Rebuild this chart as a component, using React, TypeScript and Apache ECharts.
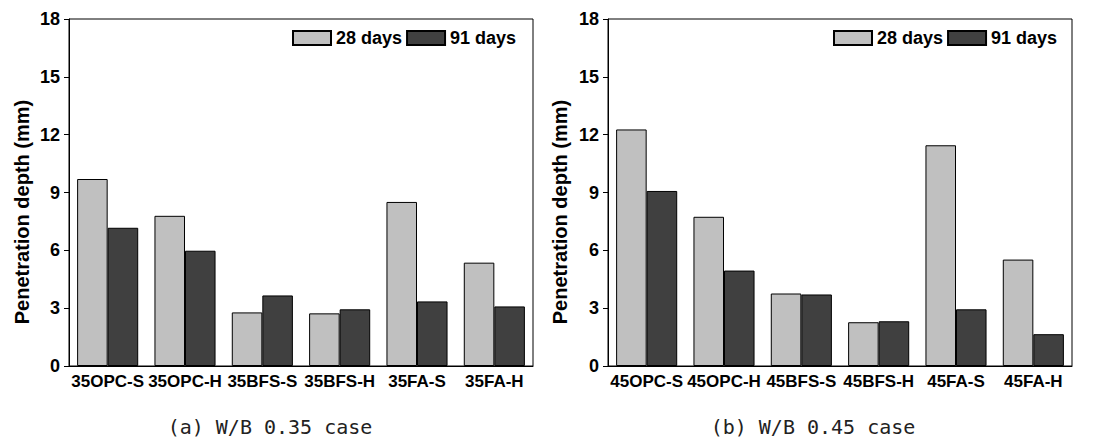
import React, { useEffect, useRef } from "react";
import * as echarts from "echarts";

const categoriesA = ["35OPC-S", "35OPC-H", "35BFS-S", "35BFS-H", "35FA-S", "35FA-H"];
const categoriesB = ["45OPC-S", "45OPC-H", "45BFS-S", "45BFS-H", "45FA-S", "45FA-H"];
const days28A = [9.7, 7.79, 2.78, 2.73, 8.51, 5.36];
const days91A = [7.17, 5.98, 3.66, 2.94, 3.35, 3.09];
const days28B = [12.27, 7.74, 3.76, 2.27, 11.45, 5.52];
const days91B = [9.08, 4.95, 3.71, 2.32, 2.94, 1.65];
const seriesNames = ["28 days", "91 days"];
const yTicks = { min: 0, max: 18, interval: 3 };
const yName = "Penetration depth (mm)";
const captions = ["(a) W/B 0.35 case", "(b) W/B 0.45 case"];

const FONT = "Liberation Sans, Arial, sans-serif";
const LIGHT = "#c0c0c0";
const DARK = "#404040";

export default function App() {
  const ref = useRef<HTMLDivElement>(null);
  useEffect(() => {
    if (!ref.current) return;
    const chart = echarts.init(ref.current, undefined, { renderer: "svg" });
    const grids = [
      { left: 69, top: 19, width: 464, height: 347 },
      { left: 608, top: 19, width: 464, height: 347 },
    ];
    const xAxes = [categoriesA, categoriesB].map((cats, i) => ({
      type: "category",
      gridIndex: i,
      data: cats,
      boundaryGap: true,
      axisLine: { lineStyle: { color: "#000", width: 1 } },
      axisTick: { inside: true, length: 3, lineStyle: { color: "#000" } },
      axisLabel: {
        color: "#000",
        fontFamily: FONT,
        fontWeight: "bold",
        fontSize: 17,
        margin: 7,
        interval: 0,
      },
      splitLine: { show: false },
    }));
    const yAxes = [0, 1].map((i) => ({
      type: "value",
      gridIndex: i,
      min: yTicks.min,
      max: yTicks.max,
      interval: yTicks.interval,
      axisLine: { show: true, lineStyle: { color: "#000", width: 1 } },
      axisTick: { show: true, inside: false, length: 5, lineStyle: { color: "#000" } },
      axisLabel: {
        color: "#000",
        fontFamily: FONT,
        fontWeight: "bold",
        fontSize: 18,
        margin: 9,
      },
      splitLine: { show: false },
    }));
    const mkSeries = (name: string, data: number[], idx: number, color: string) => ({
      type: "bar",
      name,
      data,
      xAxisIndex: idx,
      yAxisIndex: idx,
      barGap: "0%",
      barCategoryGap: "21%",
      itemStyle: { color, borderColor: "#000", borderWidth: 1 },
    });
    const legendBase = {
      data: seriesNames,
      top: 29,
      itemWidth: 38,
      itemHeight: 14,
      itemGap: 4,
      icon: "rect",
      textStyle: { color: "#000", fontFamily: FONT, fontWeight: "bold", fontSize: 18 },
      padding: 0,
    };
    chart.setOption({
      animation: false,
      backgroundColor: "#fff",
      grid: grids.map((g) => ({
        ...g,
        show: true,
        borderColor: "#000",
        borderWidth: 1,
        backgroundColor: "transparent",
      })),
      xAxis: xAxes,
      yAxis: yAxes,
      legend: [
        { ...legendBase, left: 292 },
        { ...legendBase, left: 833 },
      ],
      series: [
        mkSeries(seriesNames[0], days28A, 0, LIGHT),
        mkSeries(seriesNames[1], days91A, 0, DARK),
        mkSeries(seriesNames[0], days28B, 1, LIGHT),
        mkSeries(seriesNames[1], days91B, 1, DARK),
      ],
      graphic: [
        {
          type: "text",
          x: 22,
          y: 212,
          rotation: Math.PI / 2,
          style: {
            text: yName,
            fill: "#000",
            font: `bold 20px ${FONT}`,
            textAlign: "center",
            textVerticalAlign: "middle",
          },
        },
        {
          type: "text",
          x: 560,
          y: 212,
          rotation: Math.PI / 2,
          style: {
            text: yName,
            fill: "#000",
            font: `bold 20px ${FONT}`,
            textAlign: "center",
            textVerticalAlign: "middle",
          },
        },
        {
          type: "text",
          x: 270,
          y: 427,
          style: {
            text: captions[0],
            fill: "#222",
            font: `20px 'DejaVu Sans Mono', monospace`,
            textAlign: "center",
            textVerticalAlign: "middle",
          },
        },
        {
          type: "text",
          x: 813,
          y: 427,
          style: {
            text: captions[1],
            fill: "#222",
            font: `20px 'DejaVu Sans Mono', monospace`,
            textAlign: "center",
            textVerticalAlign: "middle",
          },
        },
      ],
    });
    return () => chart.dispose();
  }, []);
  return (
    <div
      ref={ref}
      style={{ width: 1097, height: 439, position: "absolute", left: 0, top: 0, background: "#fff" }}
    />
  );
}
